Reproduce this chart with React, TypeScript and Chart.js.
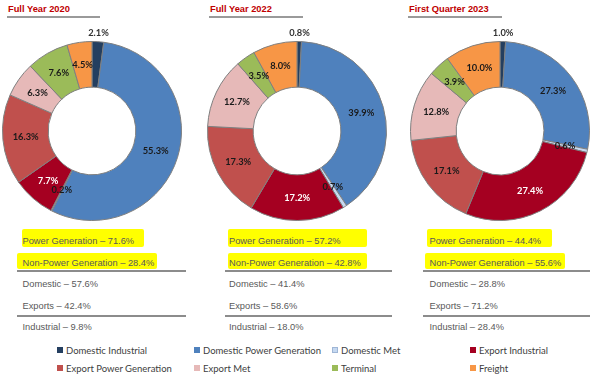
import React, { useEffect, useRef } from "react";
import { Chart, registerables } from "chart.js";

Chart.register(...registerables);

// ---------- data ----------
const categories = [
  "Domestic Industrial",
  "Domestic Power Generation",
  "Domestic Met",
  "Export Industrial",
  "Export Power Generation",
  "Export Met",
  "Terminal",
  "Freight",
];
const categoryColors = [
  "#243f60",
  "#4f81bd",
  "#c6d9f1",
  "#a50021",
  "#c0504d",
  "#e6b9b8",
  "#9bbb59",
  "#f79646",
];
const periods = ["Full Year 2020", "Full Year 2022", "First Quarter 2023"];
const fy2020 = [2.1, 55.3, 0.2, 7.7, 16.3, 6.3, 7.6, 4.5];
const fy2022 = [0.8, 39.9, 0.7, 17.2, 17.3, 12.7, 3.5, 8.0];
const q1_2023 = [1.0, 27.3, 0.6, 27.4, 17.1, 12.8, 3.9, 10.0];
const powerGeneration = [71.6, 57.2, 44.4];
const nonPowerGeneration = [28.4, 42.8, 55.6];
const domestic = [57.6, 41.4, 28.8];
const exportsShare = [42.4, 58.6, 71.2];
const industrial = [9.8, 18.0, 28.4];

const seriesByPeriod = [fy2020, fy2022, q1_2023];

// ---------- layout ----------
const CW = 184;
const CH = 200;
const PAD = { top: 16, bottom: 4, left: 2, right: 2 };
const centersX = [92, 296.5, 499.5];
const centerY = 131;
const colTextX = [22.5, 229, 429.5];
const colLine = [
  [17, 186],
  [225, 392],
  [423, 590],
];
const titleX = [8, 210, 409];
const titleLine = [
  [7, 100],
  [209, 303],
  [408, 502],
];
const hl1Pad = [
  [1, 10],
  [1.5, 26],
  [2.5, 11],
];
const hl2Pad = [
  [5.5, 3],
  [1.5, 6],
  [4.5, 4],
];
const legendColX = [57, 194, 332, 470];
const legendRowY = [350, 368];

const labelPlugin = {
  id: "sliceLabels",
  afterDatasetsDraw(chart: any) {
    const ctx = chart.ctx;
    const meta = chart.getDatasetMeta(0);
    const data = chart.data.datasets[0].data as number[];
    ctx.save();
    ctx.font = "bold 9.3px Lato";
    ctx.textAlign = "center";
    ctx.textBaseline = "middle";
    meta.data.forEach((arc: any, i: number) => {
      const p = arc.getProps(
        ["x", "y", "startAngle", "endAngle", "innerRadius", "outerRadius"],
        true
      );
      const mid = (p.startAngle + p.endAngle) / 2;
      const r = i === 0 ? p.outerRadius + 9 : (p.innerRadius + p.outerRadius) / 2;
      const x = p.x + Math.cos(mid) * r;
      const y = p.y + Math.sin(mid) * r;
      ctx.fillStyle = i === 3 ? "#ffffff" : i === 0 ? "#333333" : "#1a1a1a";
      ctx.fillText(data[i].toFixed(1) + "%", x, y);
    });
    ctx.restore();
  },
};

function Donut({ values, cx }: { values: number[]; cx: number }) {
  const ref = useRef<HTMLCanvasElement | null>(null);
  useEffect(() => {
    if (!ref.current) return;
    const chart = new Chart(ref.current, {
      type: "doughnut",
      data: {
        labels: categories,
        datasets: [
          {
            data: values,
            backgroundColor: categoryColors,
            borderColor: "#7f7f7f",
            borderWidth: 1,
          },
        ],
      },
      options: {
        animation: false,
        responsive: false,
        cutout: "49%",
        layout: { padding: PAD },
        plugins: { legend: { display: false }, tooltip: { enabled: false } },
      },
      plugins: [labelPlugin],
    });
    return () => chart.destroy();
  }, [values]);
  const left = cx - (PAD.left + (CW - PAD.left - PAD.right) / 2);
  const top = centerY - (PAD.top + (CH - PAD.top - PAD.bottom) / 2);
  return (
    <canvas
      ref={ref}
      width={CW}
      height={CH}
      style={{ position: "absolute", left, top, width: CW, height: CH }}
    />
  );
}

const textStyle: React.CSSProperties = {
  position: "absolute",
  fontFamily: "'Liberation Sans', Arial, sans-serif",
  fontSize: 9.3,
  color: "#595959",
  lineHeight: "12px",
  whiteSpace: "nowrap",
};

export default function App() {
  return (
    <div
      style={{
        position: "fixed",
        left: 0,
        top: 0,
        width: 590,
        height: 376,
        overflow: "hidden",
        background: "#ffffff",
      }}
    >
      {periods.map((p, i) => (
        <React.Fragment key={"t" + i}>
          <div
            style={{
              position: "absolute",
              left: titleX[i],
              top: 3,
              fontFamily: "'Liberation Sans', Arial, sans-serif",
              fontWeight: "bold",
              fontSize: 9.3,
              lineHeight: "13px",
              color: "#c00000",
              whiteSpace: "nowrap",
            }}
          >
            {p}
          </div>
          <div
            style={{
              position: "absolute",
              left: titleLine[i][0],
              top: 16,
              width: titleLine[i][1] - titleLine[i][0],
              height: 2,
              background: "#9a9a9a",
            }}
          />
        </React.Fragment>
      ))}

      {seriesByPeriod.map((s, i) => (
        <Donut key={"d" + i} values={s} cx={centersX[i]} />
      ))}

      {periods.map((_, i) => {
        const x = colTextX[i];
        const rows = [
          { text: `Domestic – ${domestic[i].toFixed(1)}%`, y: 284 },
          { text: `Exports – ${exportsShare[i].toFixed(1)}%`, y: 305.5 },
          { text: `Industrial – ${industrial[i].toFixed(1)}%`, y: 326.5 },
        ];
        return (
          <React.Fragment key={"c" + i}>
            <div
              style={{
                ...textStyle,
                left: x - hl1Pad[i][0],
                top: 229,
                background: "#ffff00",
                borderRadius: 2,
                padding: `5.7px ${hl1Pad[i][1]}px 0 ${hl1Pad[i][0]}px`,
              }}
            >
              {`Power Generation – ${powerGeneration[i].toFixed(1)}%`}
            </div>
            <div
              style={{
                ...textStyle,
                left: x - hl2Pad[i][0],
                top: 252.5,
                background: "#ffff00",
                borderRadius: 2,
                padding: `4.2px ${hl2Pad[i][1]}px 0.5px ${hl2Pad[i][0]}px`,
              }}
            >
              {`Non-Power Generation – ${nonPowerGeneration[i].toFixed(1)}%`}
            </div>
            {rows.map((r, k) => (
              <div key={k} style={{ ...textStyle, left: x, top: r.y - 6 }}>
                {r.text}
              </div>
            ))}
            {[271, 315.5].map((ly, k) => (
              <div
                key={"l" + k}
                style={{
                  position: "absolute",
                  left: colLine[i][0],
                  top: ly - 1,
                  width: colLine[i][1] - colLine[i][0],
                  height: 2,
                  background: "#8c8c8c",
                }}
              />
            ))}
          </React.Fragment>
        );
      })}

      {categories.map((c, i) => {
        const col = i % 4;
        const row = Math.floor(i / 4);
        const x = legendColX[col];
        const y = legendRowY[row];
        return (
          <React.Fragment key={"g" + i}>
            <div
              style={{
                position: "absolute",
                left: x,
                top: y - 3,
                width: 6,
                height: 6,
                background: categoryColors[i],
                boxSizing: "border-box",
                border: i === 2 ? "0.5px solid #9fb6d6" : "none",
              }}
            />
            <div
              style={{
                position: "absolute",
                left: x + 9,
                top: y - 6.5,
                fontFamily: "Lato, sans-serif",
                fontSize: 9.5,
                lineHeight: "13px",
                color: "#404040",
                whiteSpace: "nowrap",
              }}
            >
              {c}
            </div>
          </React.Fragment>
        );
      })}
    </div>
  );
}
